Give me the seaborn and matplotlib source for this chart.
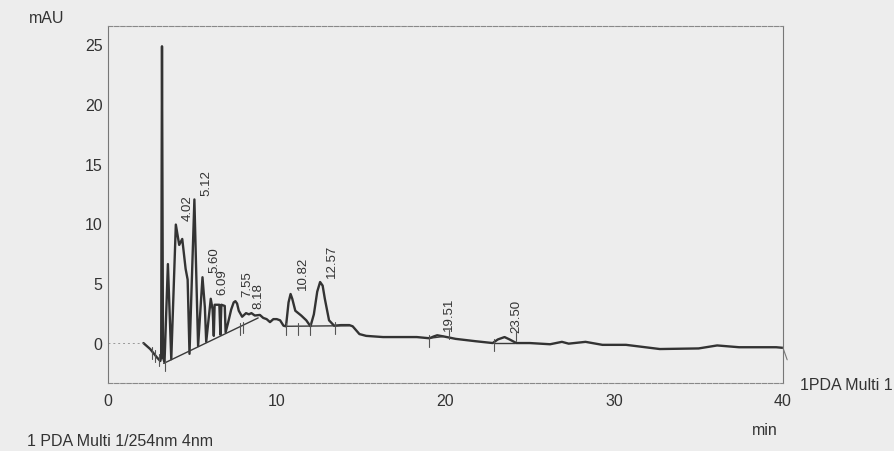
import numpy as np
import pandas as pd
import matplotlib
matplotlib.use("Agg")
import matplotlib.pyplot as plt
import seaborn as sns

# Detector trace: retention time (min) and absorbance (mAU) at the vertices of the curve
trace_time = [2.10, 2.50, 2.90, 3.10, 3.15, 3.20, 3.26, 3.35, 3.55, 3.75,
              4.02, 4.22, 4.40, 4.60, 4.72, 4.83, 5.12, 5.28, 5.34, 5.60,
              5.74, 5.82, 6.09, 6.20, 6.27, 6.32, 6.60, 6.66, 6.72, 6.92,
              6.97, 7.10, 7.30, 7.45, 7.55, 7.65, 7.75, 7.95, 8.18, 8.35,
              8.50, 8.70, 9.00, 9.20, 9.40, 9.60, 9.80, 10.00, 10.20, 10.40,
              10.55, 10.70, 10.82, 10.92, 11.10, 11.45, 11.75, 12.00, 12.20, 12.40,
              12.57, 12.72, 12.85, 13.10, 13.40, 13.80, 14.30, 14.50, 14.90, 15.30,
              16.30, 17.30, 18.30, 19.05, 19.30, 19.51, 19.90, 20.60, 21.80, 22.80,
              23.10, 23.50, 23.80, 24.20, 25.00, 26.20, 26.90, 27.30, 28.30, 29.30,
              30.70, 32.70, 35.00, 36.10, 37.40, 39.60, 40.00]
trace_mau = [0.00, -0.50, -1.20, -1.50, -1.20, 24.80, -1.20, -1.60, 6.60, -1.35,
             9.90, 8.20, 8.70, 6.20, 5.30, -0.90, 12.00, 3.00, -0.25, 5.50,
             3.00, 0.10, 3.70, 2.80, 0.60, 3.20, 3.20, 0.70, 3.20, 3.10,
             0.90, 1.60, 2.80, 3.40, 3.50, 3.30, 2.70, 2.20, 2.50, 2.40,
             2.50, 2.30, 2.35, 2.10, 2.00, 1.75, 2.00, 2.00, 1.90, 1.45,
             1.40, 3.40, 4.10, 3.70, 2.70, 2.30, 1.90, 1.40, 2.40, 4.30,
             5.10, 4.80, 3.70, 1.90, 1.45, 1.50, 1.50, 1.40, 0.75, 0.60,
             0.50, 0.50, 0.50, 0.40, 0.55, 0.65, 0.55, 0.35, 0.15, 0.00,
             0.30, 0.50, 0.30, 0.00, 0.00, -0.10, 0.10, -0.05, 0.10, -0.15,
             -0.15, -0.50, -0.45, -0.20, -0.35, -0.35, -0.40]

# Integrated peaks (retention time labels)
peak_times = [4.02, 5.12, 5.60, 6.09, 7.55, 8.18, 10.82, 12.57, 19.51, 23.50]
peak_labels = ["4.02", "5.12", "5.60", "6.09", "7.55", "8.18", "10.82", "12.57", "19.51", "23.50"]

# Integration baselines (start/end time and level, mAU)
base_start_time = [3.30, 10.50, 19.05, 22.90]
base_start_mau = [-1.70, 1.40, 0.40, 0.00]
base_end_time = [8.90, 14.30, 19.90, 24.10]
base_end_mau = [2.10, 1.45, 0.55, 0.00]

# Peak start / end markers
marker_times = [2.60, 2.80, 3.00, 3.40, 7.85, 8.00, 10.55, 11.25, 12.00, 13.45, 19.05, 22.90]
marker_mau = [-0.6, -0.9, -1.2, -1.6, 1.40, 1.50, 1.40, 1.40, 1.40, 1.45, 0.40, 0.00]

x_ticks = [0, 10, 20, 30, 40]
y_ticks = [0, 5, 10, 15, 20, 25]

sns.set_theme(style="white")
plt.rcParams["font.family"] = ["Liberation Sans", "DejaVu Sans"]

paper = "#ededed"
ink = "#333333"

fig = plt.figure(figsize=(8.94, 4.52), dpi=100, facecolor=paper)
ax = fig.add_axes([0.1208, 0.1504, 0.755, 0.790])
ax.set_facecolor(paper)

df = pd.DataFrame({"time": trace_time, "mau": trace_mau})
sns.lineplot(data=df, x="time", y="mau", ax=ax, color="#333333", lw=1.7,
             sort=False, estimator=None)

# faint zero level before the run starts
ax.plot([0, trace_time[0]], [0, 0], color="#999999", lw=0.7, ls=(0, (2, 3)))

# end-of-run mark
ax.plot([40, 40.25], [-0.4, -1.4], color="#777777", lw=0.8, clip_on=False)

# integration baselines
for t0, v0, t1, v1 in zip(base_start_time, base_start_mau, base_end_time, base_end_mau):
    ax.plot([t0, t1], [v0, v1], color="#3a3a3a", lw=1.0)

# peak start / end markers
for t, v in zip(marker_times, marker_mau):
    ax.plot([t, t], [v - 0.7, v + 0.3], color="#555555", lw=0.8)

# retention time labels
for t, lab in zip(peak_times, peak_labels):
    apex = np.interp(t, trace_time, trace_mau)
    ax.annotate(lab, xy=(t, apex), xytext=(8.6, 3.5), textcoords="offset points",
                rotation=90, ha="center", va="bottom", fontsize=9.5, color=ink)
    if t > 15:
        ax.plot([t + 0.68, t + 0.68], [apex - 0.3, apex + 0.45], color="#555555", lw=0.8)

ax.set_xlim(0, 40)
ax.set_ylim(-3.34, 26.5)
ax.set_xticks(x_ticks)
ax.set_xticklabels([str(v) for v in x_ticks])
ax.set_yticks(y_ticks)
ax.set_yticklabels([str(v) for v in y_ticks])
ax.set_xticks(np.arange(0, 41, 2), minor=True)
ax.set_yticks(np.arange(-3, 27, 1), minor=True)
ax.tick_params(axis="both", which="both", direction="in", colors="#666666",
               labelcolor=ink, labelsize=11.5)
ax.tick_params(axis="both", which="major", length=4, width=0.8)
ax.tick_params(axis="both", which="minor", length=2, width=0.6)
ax.tick_params(axis="x", pad=7)
ax.tick_params(axis="y", pad=4)
ax.set_xlabel("")
ax.set_ylabel("")

for side in ["left", "right"]:
    ax.spines[side].set_color("#777777")
    ax.spines[side].set_linewidth(0.8)
for side in ["top", "bottom"]:
    ax.spines[side].set_color("#888888")
    ax.spines[side].set_linewidth(0.8)
    ax.spines[side].set_linestyle((0, (4, 1.5)))

fig.text(47 / 894, 1 - 18.5 / 452, "mAU", ha="center", va="center", fontsize=11.5, color=ink)
fig.text(765 / 894, 1 - 431 / 452, "min", ha="center", va="center", fontsize=11.5, color=ink)
fig.text(800 / 894, 1 - 386 / 452, "1PDA Multi 1", ha="left", va="center", fontsize=11.5, color=ink)
fig.text(27 / 894, 1 - 442 / 452, "1 PDA Multi 1/254nm 4nm", ha="left", va="center",
         fontsize=11.5, color=ink)

fig.savefig("out.png", dpi=100, facecolor=paper)
